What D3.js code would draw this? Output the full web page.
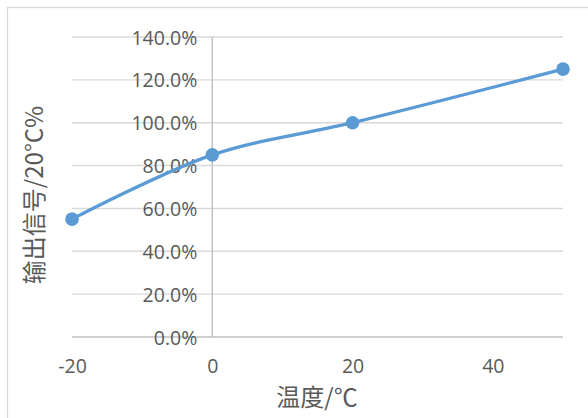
<!DOCTYPE html>
<html>
<head>
<meta charset="utf-8">
<title>输出信号</title>
<script src="https://d3js.org/d3.v7.min.js"></script>
<style>
  body { margin: 0; background: #fff; }
  svg { display: block; }
  .tick text { fill: #595959; font-family: "Open Sans", "Noto Sans", sans-serif; font-size: 19.5px; }
  .grid line { stroke: #d9d9d9; stroke-width: 1.4; }
  .axis-title { fill: #595959; }
</style>
</head>
<body>
<svg width="588" height="418"></svg>
<script>
// data
const temps = [-20, 0, 20, 50];
const output = [55, 85, 100, 125];
const xTicks = [-20, 0, 20, 40];
const yTicks = [0, 20, 40, 60, 80, 100, 120, 140];

const svg = d3.select('svg');
const plotL = 72, plotR = 563, plotT = 37, plotB = 337;

const x = d3.scaleLinear().domain([-20, 50]).range([plotL, plotR]);
const y = d3.scaleLinear().domain([0, 140]).range([plotB, plotT]);

// chart frame
svg.append('rect')
  .attr('x', 7.5).attr('y', 7.5)
  .attr('width', 600).attr('height', 430)
  .attr('fill', 'none').attr('stroke', '#d9d9d9').attr('stroke-width', 1.3);

// horizontal grid
svg.append('g').attr('class', 'grid')
  .selectAll('line').data(yTicks.slice(1)).join('line')
  .attr('x1', plotL).attr('x2', plotR)
  .attr('y1', d => y(d)).attr('y2', d => y(d));

// x axis line at 0%
svg.append('line')
  .attr('x1', plotL).attr('x2', plotR)
  .attr('y1', y(0)).attr('y2', y(0))
  .attr('stroke', '#bfbfbf').attr('stroke-width', 1.4);

// y axis line at 0 °C
svg.append('line')
  .attr('x1', x(0)).attr('x2', x(0))
  .attr('y1', y(140)).attr('y2', y(0))
  .attr('stroke', '#bfbfbf').attr('stroke-width', 1.4);

// y tick labels sit next to the vertical axis
const yAxis = svg.append('g')
  .attr('transform', `translate(${x(0) - 15}, 0)`)
  .call(d3.axisLeft(y).tickValues(yTicks).tickSize(0).tickPadding(0)
    .tickFormat(d => d.toFixed(1) + '%'));
yAxis.select('.domain').remove();
yAxis.selectAll('.tick text').attr('dy', '0.36em');

const xAxis = svg.append('g')
  .attr('transform', `translate(0, ${y(0) + 22})`)
  .call(d3.axisBottom(x).tickValues(xTicks).tickSize(0).tickPadding(0)
    .tickFormat(d => String(d)));
xAxis.select('.domain').remove();

// series
const pts = temps.map((t, i) => [t, output[i]]);
svg.append('path')
  .datum(pts)
  .attr('fill', 'none')
  .attr('stroke', '#5b9bd5')
  .attr('stroke-width', 3.3)
  .attr('stroke-linecap', 'round')
  .attr('d', d3.line().x(d => x(d[0])).y(d => y(d[1])).curve(d3.curveCatmullRom));

svg.append('g').selectAll('circle').data(pts).join('circle')
  .attr('cx', d => x(d[0])).attr('cy', d => y(d[1]))
  .attr('r', 6.8).attr('fill', '#5b9bd5');

// axis titles
svg.append('text')
  .attr('class', 'axis-title')
  .attr('x', 317).attr('y', 406)
  .attr('text-anchor', 'middle')
  .style('font-family', '"Noto Sans CJK SC", serif')
  .style('font-size', '24px')
  .text('温度/℃');

svg.append('text')
  .attr('class', 'axis-title')
  .attr('transform', 'translate(43, 195) rotate(-90)')
  .attr('text-anchor', 'middle')
  .style('font-family', '"Noto Sans CJK SC", sans-serif')
  .style('font-size', '24px')
  .text('输出信号/20°C%');
</script>
</body>
</html>
